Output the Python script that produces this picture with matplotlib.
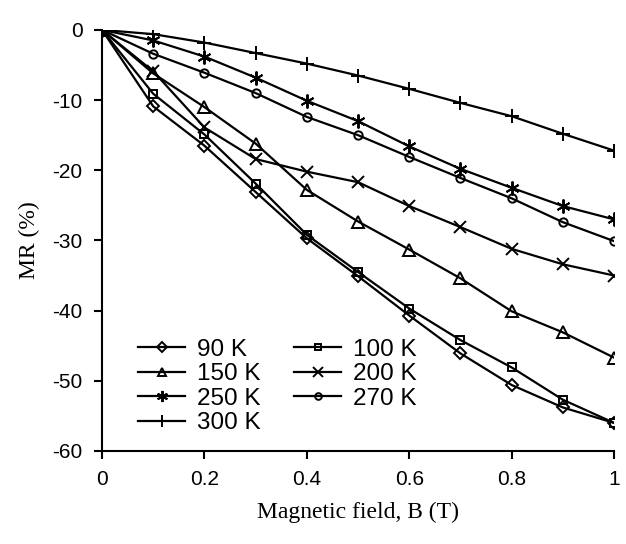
import numpy as np
import matplotlib
matplotlib.use('Agg')
import matplotlib.pyplot as plt

B = [0, 0.1, 0.2, 0.3, 0.4, 0.5, 0.6, 0.7, 0.8, 0.9, 1.0]

mr_90 = [0, -10.9, -16.5, -23.1, -29.7, -35.1, -40.7, -46.1, -50.6, -53.8, -56.0]
mr_100 = [0, -9.1, -14.9, -21.9, -29.2, -34.5, -39.7, -44.2, -48.1, -52.7, -56.0]
mr_150 = [0, -6.2, -11.0, -16.2, -22.8, -27.3, -31.3, -35.4, -40.1, -43.1, -46.7]
mr_200 = [0, -5.9, -13.9, -18.4, -20.2, -21.7, -25.1, -28.1, -31.2, -33.4, -35.0]
mr_250 = [0, -1.5, -3.8, -6.8, -10.1, -13.0, -16.6, -19.8, -22.5, -25.1, -27.0]
mr_270 = [0, -3.4, -6.1, -9.0, -12.4, -15.0, -18.1, -21.1, -24.0, -27.4, -30.1]
mr_300 = [0, -0.6, -1.8, -3.3, -4.8, -6.5, -8.4, -10.4, -12.3, -14.8, -17.2]

labels = ['90 K', '100 K', '150 K', '200 K', '250 K', '270 K', '300 K']
series = [mr_90, mr_100, mr_150, mr_200, mr_250, mr_270, mr_300]
markers = ['D', 's', '^', 'x', (6, 2, 0), 'o', '+']
msizes = [6, 5.5, 8, 9, 10, 6, 10]

plt.rcParams['font.family'] = ['Liberation Sans', 'DejaVu Sans']
plt.rcParams['axes.unicode_minus'] = False

fig = plt.figure(figsize=(6.26, 5.44), dpi=100)
ax = fig.add_axes([0.163, 0.171, 0.818, 0.774])

lines = []
for y, lab, m, ms in zip(series, labels, markers, msizes):
    ln, = ax.plot(B, y, color='black', lw=1.6, marker=m, ms=ms, mfc='none',
                  mec='black', mew=1.4, label=lab)
    lines.append(ln)

ax.set_xlim(0, 1)
ax.set_ylim(-60, 0)
ax.set_xticks([0, 0.2, 0.4, 0.6, 0.8, 1.0])
ax.set_xticklabels(['0', '0.2', '0.4', '0.6', '0.8', '1'])
ax.set_yticks([0, -10, -20, -30, -40, -50, -60])
ax.spines['top'].set_visible(False)
ax.spines['right'].set_visible(False)
ax.spines['left'].set_linewidth(1.5)
ax.spines['bottom'].set_linewidth(1.5)
ax.tick_params(direction='out', length=6, width=1.5, labelsize=15, pad=8)

ax.set_xlabel('Magnetic field, B (T)', family='Liberation Serif', fontsize=17, labelpad=9)
ax.set_ylabel('MR (%)', family='Liberation Serif', fontsize=17, labelpad=9)

# row-wise order like the original legend
order = [0, 2, 4, 6, 1, 3, 5]
ax.legend([lines[i] for i in order], [labels[i] for i in order],
          loc='lower left', bbox_to_anchor=(0.07, 0.04), ncol=2, frameon=False,
          fontsize=17.5, handlelength=1.95, handletextpad=0.5, columnspacing=1.35,
          labelspacing=0.1, borderaxespad=0, borderpad=0, markerscale=0.8)

fig.savefig('out.png', dpi=100)
